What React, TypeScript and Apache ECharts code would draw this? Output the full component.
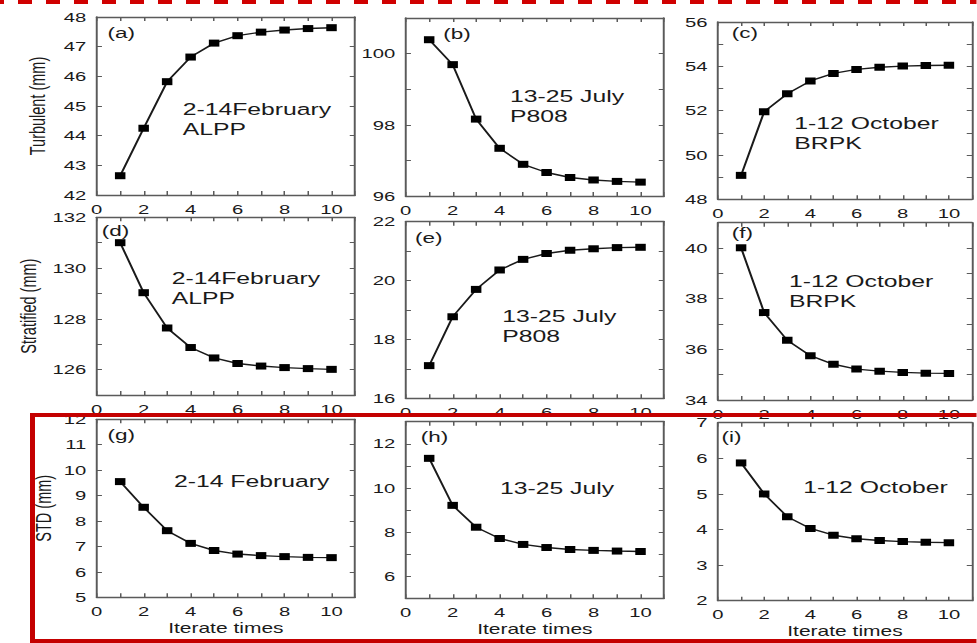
import React, { useEffect, useRef } from "react";
import * as echarts from "echarts";

// ---------- data ----------
const iterations = [1, 2, 3, 4, 5, 6, 7, 8, 9, 10];
const xTickLabels = [0, 2, 4, 6, 8, 10];

const turbulentFeb = [42.65, 44.25, 45.82, 46.65, 47.12, 47.37, 47.49, 47.56, 47.61, 47.64];
const turbulentJul = [100.39, 99.69, 98.16, 97.34, 96.89, 96.66, 96.52, 96.45, 96.41, 96.39];
const turbulentOct = [49.08, 51.95, 52.76, 53.34, 53.68, 53.86, 53.96, 54.01, 54.04, 54.05];

const stratifiedFeb = [131.0, 129.03, 127.64, 126.87, 126.46, 126.24, 126.14, 126.08, 126.04, 126.01];
const stratifiedJul = [17.11, 18.77, 19.7, 20.36, 20.72, 20.92, 21.03, 21.08, 21.12, 21.13];
const stratifiedOct = [40.01, 37.45, 36.36, 35.75, 35.41, 35.22, 35.14, 35.09, 35.06, 35.05];

const stdFeb = [9.55, 8.54, 7.62, 7.12, 6.84, 6.7, 6.64, 6.6, 6.57, 6.56];
const stdJul = [11.34, 9.21, 8.22, 7.71, 7.44, 7.3, 7.21, 7.17, 7.14, 7.12];
const stdOct = [5.87, 5.0, 4.36, 4.03, 3.84, 3.74, 3.69, 3.66, 3.64, 3.63];

const panelLetters = ["(a)", "(b)", "(c)", "(d)", "(e)", "(f)", "(g)", "(h)", "(i)"];
const periodTexts = [
  ["2-14February", "ALPP"],
  ["13-25 July", "P808"],
  ["1-12 October", "BRPK"],
  ["2-14February", "ALPP"],
  ["13-25 July", "P808"],
  ["1-12 October", "BRPK"],
  ["2-14 February"],
  ["13-25 July"],
  ["1-12 October"],
];
const yNames = ["Turbulent (mm)", "Stratified (mm)", "STD (mm)"];
const xName = "Iterate times";

// y-axis ranges: [min, max, label step]
const yRanges: [number, number, number][] = [
  [42, 48, 1], [96, 101, 2], [48, 56, 2],
  [125, 132, 2], [16, 22, 2], [34, 41, 2],
  [5, 12, 1], [5, 13, 2], [2, 7, 1],
];
const seriesData = [
  turbulentFeb, turbulentJul, turbulentOct,
  stratifiedFeb, stratifiedJul, stratifiedOct,
  stdFeb, stdJul, stdOct,
];

// ---------- layout (in stretched page pixels) ----------
const S = 1.5; // the figure is horizontally stretched
const W = 977 / S;
const H = 643;
const colLeft = [96.7, 405.7, 718];
const boxW = 258.3;
const boxTB: [number, number][] = [
  [17, 195], [18, 196], [22, 199.3],
  [217.3, 395], [221.7, 398.3], [222.7, 400],
  [419.3, 597.3], [421.7, 598.3], [422.7, 600.7],
];
const letterPos: [number, number][] = [
  [10.7, 33], [37.6, 34.3], [13.7, 33.3],
  [5, 230.7], [9.3, 238.3], [13.7, 233.3],
  [10.7, 435], [15, 436.7], [3.4, 436.7],
];
const textPos: [number, number][] = [
  [86, 109], [104.3, 95.7], [76.3, 123.3],
  [75, 277.7], [96.6, 316], [71, 281],
  [77.3, 481], [94.3, 487.7], [85.3, 487.3],
];
const yNameGaps = [32, 38, 28];

const FONT = '"Liberation Sans", Arial, Helvetica, sans-serif';
const AXIS_COLOR = "#5a5a5a";
const TEXT_COLOR = "#1a1a1a";

function buildOption() {
  const grid: any[] = [];
  const xAxis: any[] = [];
  const yAxis: any[] = [];
  const series: any[] = [];
  const graphic: any[] = [];

  for (let i = 0; i < 9; i++) {
    const col = i % 3;
    const row = Math.floor(i / 3);
    const [top, bottom] = boxTB[i];
    grid.push({
      left: colLeft[col] / S,
      top,
      width: boxW / S,
      height: bottom - top,
      containLabel: false,
    });
    const axisLine = { show: true, onZero: false, lineStyle: { color: AXIS_COLOR, width: 1.3 } };
    const xCommon = {
      type: "value",
      gridIndex: i,
      min: 0,
      max: 11,
      interval: 1,
      axisLine,
      splitLine: { show: false },
      axisTick: { show: true, inside: true, length: 4, lineStyle: { color: AXIS_COLOR, width: 1 } },
    };
    xAxis.push({
      ...xCommon,
      position: "bottom",
      axisLabel: {
        show: true,
        margin: 7,
        fontSize: 13.5,
        fontFamily: FONT,
        color: TEXT_COLOR,
        formatter: (v: number) => (xTickLabels.indexOf(v) >= 0 ? String(v) : ""),
      },
      name: row === 2 ? xName : "",
      nameLocation: "middle",
      nameGap: 24,
      nameTextStyle: { fontSize: 14, fontFamily: FONT, color: TEXT_COLOR },
    });
    xAxis.push({ ...xCommon, position: "top", axisLabel: { show: false } });

    const [ymin, ymax, step] = yRanges[i];
    const yCommon = {
      type: "value",
      gridIndex: i,
      min: ymin,
      max: ymax,
      interval: 1,
      axisLine,
      splitLine: { show: false },
      axisTick: { show: true, inside: true, length: 3.5, lineStyle: { color: AXIS_COLOR, width: 1 } },
    };
    yAxis.push({
      ...yCommon,
      position: "left",
      axisLabel: {
        show: true,
        margin: 7,
        fontSize: 13.5,
        fontFamily: FONT,
        color: TEXT_COLOR,
        formatter: (v: number) => ((v - (step === 2 ? 0 : ymin)) % step === 0 ? String(v) : ""),
      },
      name: col === 0 ? yNames[row] : "",
      nameLocation: "middle",
      nameGap: yNameGaps[row],
      nameTextStyle: { fontSize: 14.5, fontFamily: FONT, color: TEXT_COLOR },
    });
    yAxis.push({ ...yCommon, position: "right", axisLabel: { show: false } });

    series.push({
      type: "line",
      xAxisIndex: 2 * i,
      yAxisIndex: 2 * i,
      data: iterations.map((x, k) => [x, seriesData[i][k]]),
      symbol: "rect",
      symbolSize: [7, 7],
      itemStyle: { color: "#000" },
      lineStyle: { color: "#1a1a1a", width: 1.4 },
      silent: true,
    });

    const txtStyle = (text: string, size: number) => ({
      text,
      fill: TEXT_COLOR,
      fontSize: size,
      fontFamily: FONT,
      textAlign: "left",
      textVerticalAlign: "middle",
      align: "left",
      verticalAlign: "middle",
    });
    graphic.push({
      type: "text",
      x: (colLeft[col] + letterPos[i][0]) / S,
      y: letterPos[i][1],
      style: txtStyle(panelLetters[i], 15),
      z: 10,
    });
    periodTexts[i].forEach((t, k) => {
      graphic.push({
        type: "text",
        x: (colLeft[col] + textPos[i][0]) / S,
        y: textPos[i][1] + k * 20,
        style: txtStyle(t, 16.5),
        z: 10,
      });
    });
  }

  // red dashed line at the top
  graphic.push({
    type: "line",
    shape: { x1: -10 / S, y1: 2, x2: W + 5, y2: 2 },
    style: { stroke: "#d00000", lineWidth: 4, lineDash: [14 / S, 14 / S] },
    z: 20,
  });
  // red frame around bottom row
  const red = "#c40000";
  graphic.push({ type: "rect", shape: { x: 30 / S, y: 413, width: W, height: 4 }, style: { fill: red }, z: 20 });
  graphic.push({ type: "rect", shape: { x: 30 / S, y: 639, width: W, height: 4 }, style: { fill: red }, z: 20 });
  graphic.push({ type: "rect", shape: { x: 30 / S, y: 413, width: 5 / S, height: 230 }, style: { fill: red }, z: 20 });

  return {
    animation: false,
    backgroundColor: "#ffffff",
    textStyle: { fontFamily: FONT },
    grid,
    xAxis,
    yAxis,
    series,
    graphic,
  };
}

export default function App() {
  const ref = useRef<HTMLDivElement>(null);
  useEffect(() => {
    if (!ref.current) return;
    const chart = echarts.init(ref.current, undefined, { renderer: "svg" });
    chart.setOption(buildOption() as any);
    return () => chart.dispose();
  }, []);
  return (
    <div
      style={{
        position: "absolute",
        left: 0,
        top: 0,
        width: 977,
        height: H,
        overflow: "hidden",
        background: "#fff",
      }}
    >
      <div
        ref={ref}
        style={{
          width: W,
          height: H,
          transform: `scaleX(${S})`,
          transformOrigin: "0 0",
        }}
      />
    </div>
  );
}
